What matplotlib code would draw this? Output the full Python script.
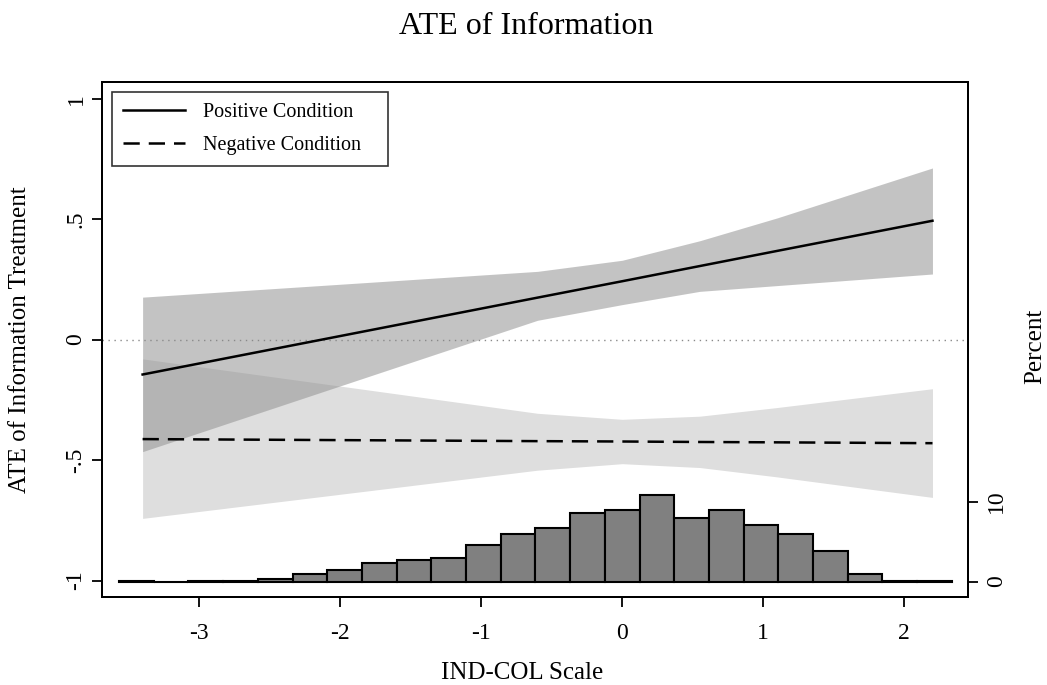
import numpy as np
import matplotlib
matplotlib.use("Agg")
import matplotlib.pyplot as plt

plt.rcParams['font.family'] = ['Liberation Serif', 'DejaVu Serif']
plt.rcParams['axes.unicode_minus'] = False

# values
scale_x = [-3.4, -0.6, 0.0, 0.55, 1.1, 2.2]

pos_ate = [-0.145, 0.174, 0.242, 0.305, 0.368, 0.493]
pos_lo = [-0.465, 0.080, 0.145, 0.200, 0.224, 0.272]
pos_hi = [0.176, 0.283, 0.329, 0.410, 0.505, 0.712]

neg_ate = [-0.413, -0.4215, -0.423, -0.425, -0.4265, -0.430]
neg_lo = [-0.742, -0.542, -0.515, -0.531, -0.570, -0.655]
neg_hi = [-0.080, -0.306, -0.331, -0.318, -0.282, -0.204]

# histogram of IND-COL scale (percent)
hist_start = -3.567
hist_width = 0.246
hist_pct = [0.1, 0.0, 0.1, 0.1, 0.3, 1.0, 1.4, 2.3, 2.75, 3.0, 4.6, 6.0,
            6.75, 8.6, 9.0, 10.8, 8.0, 9.0, 7.1, 6.0, 3.8, 1.0, 0.1, 0.1]
hist_left = hist_start + hist_width * np.arange(len(hist_pct))

fig = plt.figure(figsize=(10.47, 6.85), dpi=100)
ax = fig.add_axes([101.7 / 1047, 1 - 596.7 / 685, 866.6 / 1047, 515 / 685])

ax.fill_between(scale_x, neg_lo, neg_hi, color='#dedede', lw=0)
ax.fill_between(scale_x, pos_lo, pos_hi, color='#939393', alpha=0.55, lw=0)
ax.axhline(0, color='#8a8a8a', lw=1.0, ls=(0, (1, 3.3)))
ax.plot(scale_x, pos_ate, color='black', lw=1.8, label='Positive Condition')
ax.plot(scale_x, neg_ate, color='black', lw=1.8, dashes=(6.5, 3.6),
        label='Negative Condition   ')

ax.set_xlim(-3.69, 2.454)
ax.set_ylim(-1.067, 1.07)
ax.set_xticks([-3, -2, -1, 0, 1, 2])
ax.set_yticks([-1, -0.5, 0, 0.5, 1])
ax.set_yticklabels(['-1', '-.5', '0', '.5', '1'], rotation=90, va='center')
ax.tick_params(axis='both', length=7, width=1.3, labelsize=17, direction='out')
ax.tick_params(axis='y', pad=4)
ax.tick_params(axis='x', pad=12)
for sp in ax.spines.values():
    sp.set_linewidth(1.4)

ax2 = ax.twinx()
ax2.bar(hist_left, hist_pct, width=hist_width, align='edge',
        color='#808080', edgecolor='black', linewidth=1.5)
ax2.set_ylim(-1.9, 62.5)
ax2.set_yticks([0, 10])
ax2.set_yticklabels(['0', '10'], rotation=90, va='center')
ax2.tick_params(axis='y', length=7, width=1.3, labelsize=17, pad=6)
for sp in ax2.spines.values():
    sp.set_linewidth(1.4)

leg = ax.legend(loc='upper left', bbox_to_anchor=(0.0115, 0.98), fontsize=14.5,
                frameon=True, fancybox=False, edgecolor='black',
                handlelength=3.1, handletextpad=0.9, labelspacing=0.68,
                borderpad=0.56, borderaxespad=0)
leg.get_frame().set_linewidth(1.2)
leg.set_zorder(5)
ax.set_zorder(ax2.get_zorder() + 1)
ax.patch.set_visible(False)

fig.text(526 / 1047, 1 - 27 / 685, 'ATE of Information', ha='center',
         va='center', fontsize=23)
fig.text(522 / 1047, 1 - 673 / 685, 'IND-COL Scale', ha='center',
         va='center', fontsize=18)
fig.text(20 / 1047, 1 - 340 / 685, 'ATE of Information Treatment',
         rotation=90, ha='center', va='center', fontsize=18)
fig.text(1035 / 1047, 1 - 346 / 685, 'Percent', rotation=90, ha='center',
         va='center', fontsize=18)

fig.savefig('out.png', dpi=100)
